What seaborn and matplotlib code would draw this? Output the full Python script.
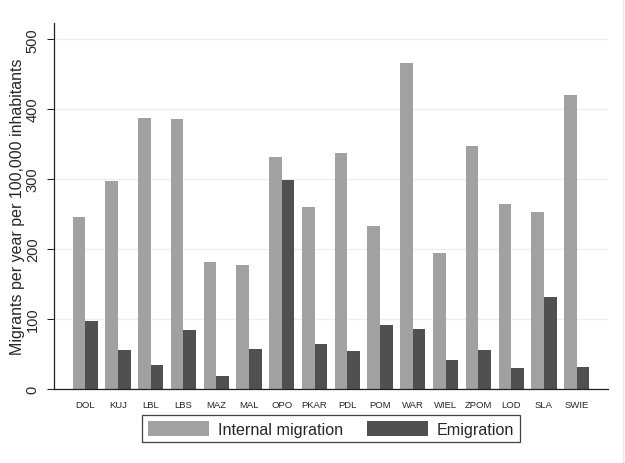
import pandas as pd
import seaborn as sns
import matplotlib.pyplot as plt

# Migration rates by voivodeship
regions = ['DOL', 'KUJ', 'LBL', 'LBS', 'MAZ', 'MAL', 'OPO', 'PKAR',
           'PDL', 'POM', 'WAR', 'WIEL', 'ZPOM', 'LOD', 'SLA', 'SWIE']
internal = [246, 298, 387, 386, 182, 177, 332, 260,
            338, 233, 466, 194, 347, 264, 253, 420]
emigration = [97, 56, 34, 85, 19, 57, 299, 64,
              54, 91, 86, 41, 56, 30, 132, 32]
series = ['Internal migration', 'Emigration']
colors = ['#a1a1a1', '#505050']
yticks = [0, 100, 200, 300, 400, 500]

df = pd.DataFrame({
    'Region': regions * 2,
    'Rate': internal + emigration,
    'Type': [series[0]] * len(regions) + [series[1]] * len(regions),
})

sns.set_style('white')
plt.rcParams['font.family'] = ['Liberation Sans', 'DejaVu Sans']

fig = plt.figure(figsize=(6.25, 4.64), dpi=100)
ax = fig.add_axes([0.087, 0.1595, 0.885, 0.7885])

sns.barplot(data=df, x='Region', y='Rate', hue='Type', hue_order=series,
            palette=colors, saturation=1, width=0.77, linewidth=0, ax=ax)

ax.set_xlim(-0.94, len(regions) - 1 + 0.94)
ax.set_ylim(0, 523)
ax.set_yticks(yticks)
ax.set_yticklabels([str(t) for t in yticks], rotation=90, va='center', fontsize=10.5)
ax.yaxis.grid(True, color='#e8f0f2', linewidth=1.0)
ax.set_axisbelow(True)

ax.set_xlabel('')
ax.set_ylabel('Migrants per year per 100,000 inhabitants', fontsize=11.5, labelpad=0.5)
ax.tick_params(axis='x', length=0, pad=8, labelsize=6.8)
ax.tick_params(axis='y', left=True, length=5, width=0.75, color='#222222', pad=5.5)

for side in ['top', 'right']:
    ax.spines[side].set_visible(False)
for side in ['left', 'bottom']:
    ax.spines[side].set_color('#222222')
    ax.spines[side].set_linewidth(0.9)

leg = ax.legend(loc='upper center', bbox_to_anchor=(0.5, -0.071), ncol=2,
                frameon=True, fancybox=False, fontsize=11.6,
                handlelength=3.8, handleheight=1.05, handletextpad=0.55,
                columnspacing=1.5, borderpad=0.35, borderaxespad=0)
leg.get_frame().set_edgecolor('#111111')
leg.get_frame().set_linewidth(0.9)

# faint edge of the graph region on the right
fig.add_artist(plt.Line2D([0.9965, 0.9965], [0, 1], transform=fig.transFigure,
                          color='#e4ecee', linewidth=1))

fig.savefig('out.png', dpi=100)
